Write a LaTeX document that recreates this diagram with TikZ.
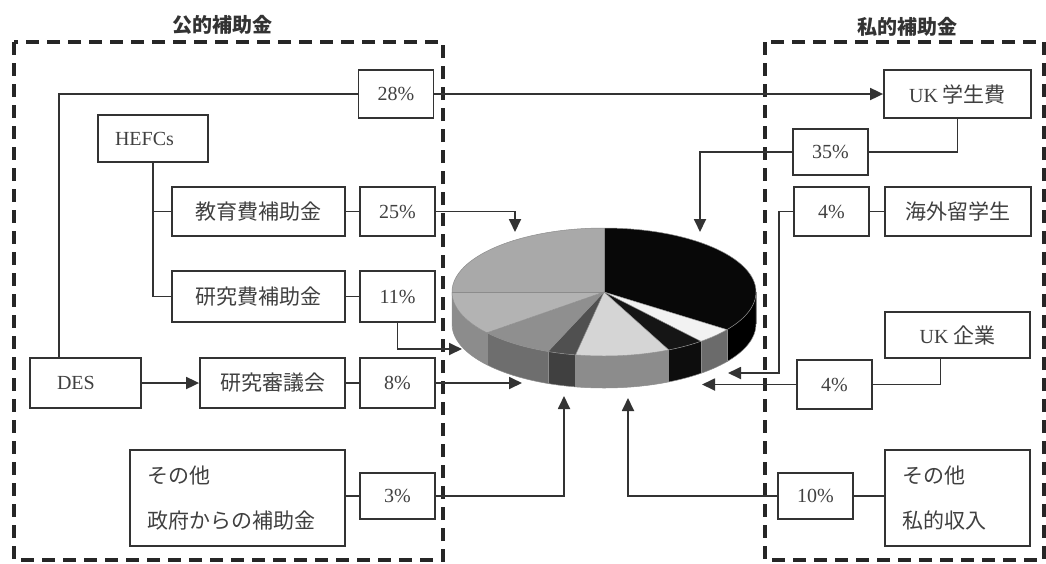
\documentclass[tikz,border=0pt]{standalone}
\usepackage{fontspec}
\setmainfont{Liberation Serif}
\newfontfamily\jp{Noto Sans CJK JP}
\usetikzlibrary{arrows.meta,calc}
\newcommand{\jtext}[1]{{\jp\fontsize{21}{25}\selectfont #1}}
\definecolor{tA}{HTML}{A9A9A9}
\definecolor{tB}{HTML}{B3B3B3}
\definecolor{tC}{HTML}{8F8F8F}
\definecolor{tD}{HTML}{505050}
\definecolor{tE}{HTML}{D5D5D5}
\definecolor{tF}{HTML}{151515}
\definecolor{tG}{HTML}{F2F2F2}
\definecolor{tH}{HTML}{080808}
\begin{document}
\begin{tikzpicture}[x=1pt,y=-1pt,
  box/.style={draw=black!80, line width=1.8pt, inner sep=0pt, text=black!75, font=\fontsize{20}{24}\selectfont},
  pct/.style={box, minimum width=75pt, minimum height=48pt},
  conn/.style={draw=black!80, line width=1.8pt},
  arr/.style={conn, -{Triangle[length=13pt,width=12pt]}},
  region/.style={draw=black!85, line width=3.2pt, dash pattern=on 13pt off 8pt},
  ttl/.style={font=\jp\bfseries\fontsize{20}{24}\selectfont, text=black!80},
  edge/.style={draw=black!45, line width=0.5pt}
]
\useasboundingbox (0,0) rectangle (1046,563);

% regions
\draw[region] (14,42) rectangle (443,560);
\draw[region] (765,42) rectangle (1044,560);
\node[ttl] (tpub) at (222,25) {公的補助金};
\node[ttl] (tpriv) at (907,27) {私的補助金};

% pie
\begin{scope}[shift={(604,292)}]
% sides
\foreach \a/\b/\c in {0/36/black, 36/50.4/black!58, 50.4/64.8/black!95, 64.8/100.8/black!45, 100.8/111.6/black!75, 111.6/140.4/black!57, 140.4/180/black!45}{
  \fill[\c] (\a:152 and 64) arc[start angle=\a, end angle=\b, x radius=152, y radius=64] -- ++(0,32) arc[start angle=\b, end angle=\a, x radius=152, y radius=64] -- cycle;
  \draw[edge] (\a:152 and 64) -- ++(0,32);
}
\draw[edge] (0:152 and 64) -- ++(0,32) arc[start angle=0, end angle=180, x radius=152, y radius=64] -- (180:152 and 64);
% tops
\foreach \a/\b/\c in {-90/36/tH, 36/50.4/tG, 50.4/64.8/tF, 64.8/100.8/tE, 100.8/111.6/tD, 111.6/140.4/tC, 140.4/180/tB, 180/270/tA}{
  \fill[\c] (0,0) -- (\a:152 and 64) arc[start angle=\a, end angle=\b, x radius=152, y radius=64] -- cycle;
}
\foreach \a in {36,50.4,64.8,100.8,111.6,140.4,180,270}{
  \draw[edge] (0,0) -- (\a:152 and 64);
}
\draw[edge] (0,0) ellipse[x radius=152, y radius=64];
\end{scope}

% left nodes
\node[pct] (p28) at (396,94) {28\%};
\node[box, minimum width=110pt, minimum height=47pt, text width=76pt, align=left] (hefcs) at (153,138.5) {HEFCs};
\node[box, minimum width=173pt, minimum height=49pt] (kyoiku) at (258.5,211.5) {\jtext{教育費補助金}};
\node[pct, minimum height=49pt] (p25) at (397.5,211.5) {25\%};
\node[box, minimum width=173pt, minimum height=51pt] (kenkyu) at (258.5,296.5) {\jtext{研究費補助金}};
\node[pct, minimum height=51pt] (p11) at (397.5,296.5) {11\%};
\node[box, minimum width=111pt, minimum height=50pt, text width=57pt, align=left] (des) at (85.5,383) {DES};
\node[box, minimum width=145pt, minimum height=50pt] (council) at (272.5,383) {\jtext{研究審議会}};
\node[pct, minimum height=50pt] (p8) at (397.5,383) {8\%};
\node[box, minimum width=215pt, minimum height=96pt, text width=181pt, align=left, font=\jp\fontsize{21}{45}\selectfont] (govo) at (237.5,498) {その他\\政府からの補助金};
\node[pct, minimum height=46pt] (p3) at (397.5,496) {3\%};

% right nodes
\node[box, minimum width=147pt, minimum height=48pt] (ukfee) at (957.5,94) {UK \jtext{学生費}};
\node[pct, minimum height=46pt] (p35) at (830.5,152) {35\%};
\node[box, minimum width=146pt, minimum height=49pt] (abroad) at (958,211.5) {\jtext{海外留学生}};
\node[pct, minimum height=49pt] (p4a) at (831.5,211.5) {4\%};
\node[box, minimum width=145pt, minimum height=46pt] (ukco) at (957.5,335) {UK \jtext{企業}};
\node[pct, minimum height=49pt] (p4b) at (834.5,384.5) {4\%};
\node[box, minimum width=145pt, minimum height=96pt, text width=111pt, align=left, font=\jp\fontsize{21}{45}\selectfont] (privo) at (957.5,498) {その他\\私的収入};
\node[pct, minimum height=46pt] (p10) at (815.5,496) {10\%};

% arrow targets at the pie
\coordinate (t25) at (515,232);
\coordinate (t11) at (462,349);
\coordinate (t8) at (522,383);
\coordinate (t3) at (564,396);
\coordinate (t10) at (628,398);
\coordinate (t35) at (700,232);
\coordinate (t4a) at (728,373);
\coordinate (t4b) at (702,384.5);

% connectors
\draw[conn] (p28.west) -| ($(des.north west)+(30,0)$);
\draw[arr] (p28.east) -- (ukfee.west);
\draw[conn] (hefcs.south) |- (kyoiku.west);
\draw[conn] (hefcs.south) |- (kenkyu.west);
\draw[conn] (kyoiku.east) -- (p25.west);
\draw[conn] (kenkyu.east) -- (p11.west);
\draw[arr] (des.east) -- (council.west);
\draw[conn] (council.east) -- (p8.west);
\draw[conn] (govo.east |- p3.west) -- (p3.west);
\draw[arr] (p25.east) -| (t25);
\draw[arr] (p11.south) |- (t11);
\draw[arr] (p8.east) -- (t8);
\draw[arr] (p3.east) -| (t3);
\draw[conn] (ukfee.south) |- (p35.east);
\draw[arr] (p35.west) -| (t35);
\draw[conn] (abroad.west) -- (p4a.east);
\draw[arr] (p4a.west) -- ++(-14,0) |- (t4a);
\draw[conn] ($(ukco.south)+(-17,0)$) |- (p4b.east);
\draw[arr] (p4b.west) -- (t4b);
\draw[conn] (privo.west |- p10.east) -- (p10.east);
\draw[arr] (p10.west) -| (t10);
\end{tikzpicture}
\end{document}
